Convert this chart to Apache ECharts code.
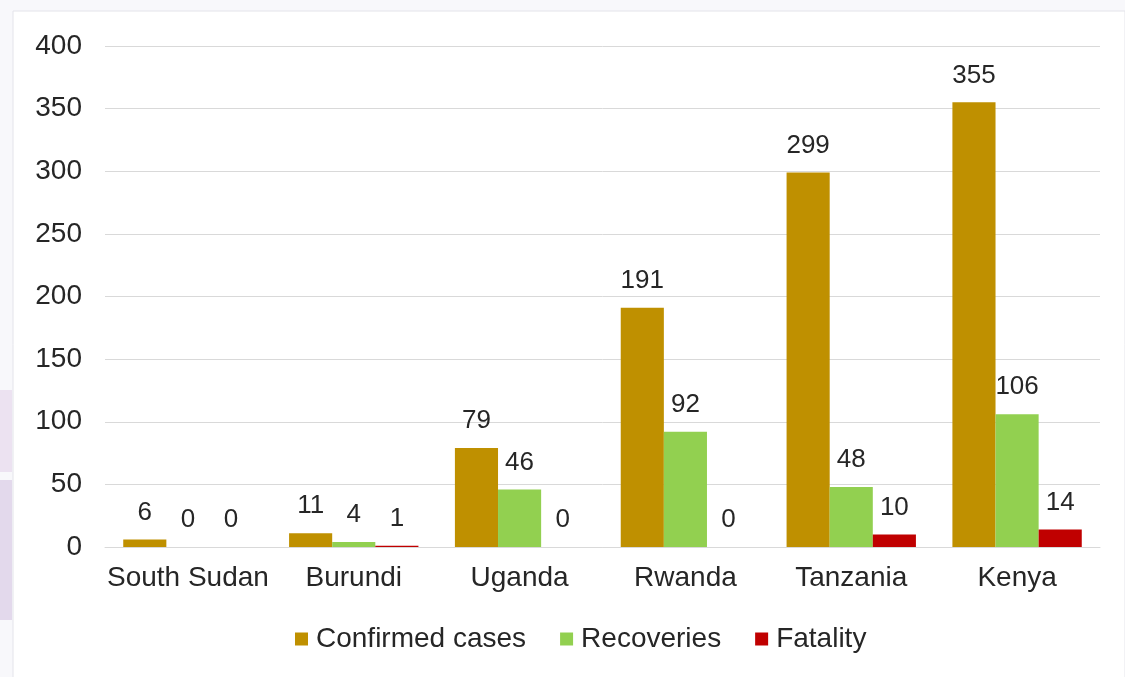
<!DOCTYPE html>
<html>
<head>
<meta charset="utf-8">
<script src="https://cdn.jsdelivr.net/npm/echarts@6/dist/echarts.min.js"></script>
<style>
html,body{margin:0;padding:0;background:#f8f8fb;}
#c{width:1125px;height:677px;}
</style>
</head>
<body>
<div id="c"></div>
<script>
const categories = ['South Sudan', 'Burundi', 'Uganda', 'Rwanda', 'Tanzania', 'Kenya'];
const confirmedCases = [6, 11, 79, 191, 299, 355];
const recoveries = [0, 4, 46, 92, 48, 106];
const fatality = [0, 1, 0, 0, 10, 14];
const seriesNames = ['Confirmed cases', 'Recoveries', 'Fatality'];

const chart = echarts.init(document.getElementById('c'));
const font = 'Liberation Sans, Arial, sans-serif';
const lbl = {show: true, position: 'top', distance: 14, color: '#262626', fontSize: 26, fontFamily: font};
chart.setOption({
  backgroundColor: '#f8f8fb',
  animation: false,
  graphic: [
    {type: 'rect', z: -10, shape: {x: 13, y: 11, width: 1112, height: 670}, style: {fill: '#ffffff', stroke: '#e4e4ea', lineWidth: 1}},
    {type: 'rect', z: -10, shape: {x: 0, y: 390, width: 12, height: 82}, style: {fill: '#ece2f1'}},
    {type: 'rect', z: -10, shape: {x: 0, y: 480, width: 12, height: 140}, style: {fill: '#e3d9ec'}}
  ],
  grid: {left: 105, right: 25, top: 46, bottom: 130, containLabel: false},
  legend: {
    data: seriesNames, top: 620, left: 290,
    icon: 'rect', itemWidth: 13, itemHeight: 13, itemGap: 34,
    textStyle: {fontSize: 28, color: '#262626', fontFamily: font, padding: [0, 0, 0, 3]}
  },
  xAxis: {
    type: 'category', data: categories,
    axisLine: {lineStyle: {color: '#d9d9d9'}},
    axisTick: {show: false},
    axisLabel: {fontSize: 28, color: '#262626', fontFamily: font, margin: 17, interval: 0}
  },
  yAxis: {
    type: 'value', min: 0, max: 400, interval: 50,
    axisLine: {show: false}, axisTick: {show: false},
    splitLine: {lineStyle: {color: '#d9d9d9'}},
    axisLabel: {fontSize: 28, color: '#262626', fontFamily: font, margin: 23}
  },
  series: [
    {name: seriesNames[0], type: 'bar', data: confirmedCases, itemStyle: {color: '#bf9000'}, label: lbl, barGap: '0%', barCategoryGap: '22%'},
    {name: seriesNames[1], type: 'bar', data: recoveries, itemStyle: {color: '#92d050'}, label: lbl, barGap: '0%', barCategoryGap: '22%'},
    {name: seriesNames[2], type: 'bar', data: fatality, itemStyle: {color: '#c00000'}, label: lbl, barGap: '0%', barCategoryGap: '22%'}
  ]
});
</script>
</body>
</html>
